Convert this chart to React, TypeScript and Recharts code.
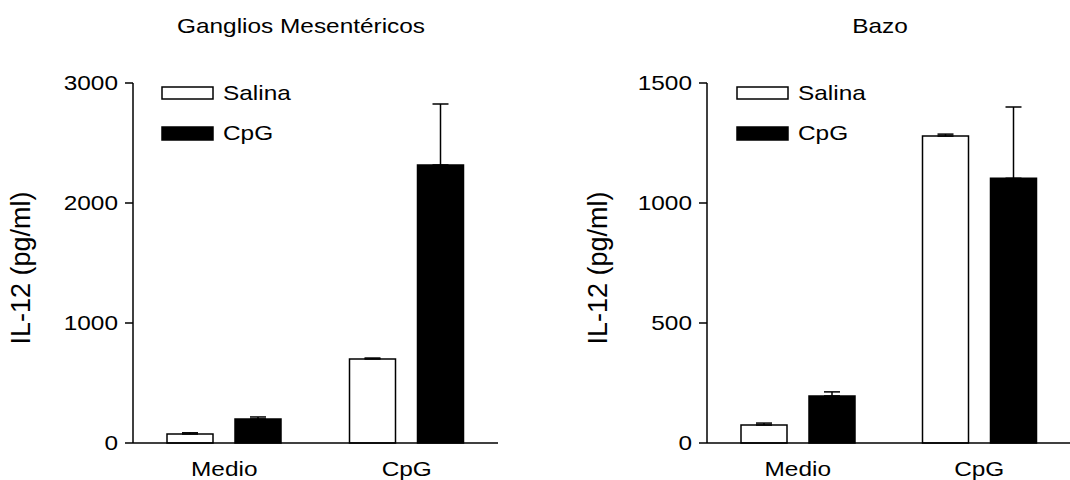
import React from 'react';
import { BarChart, Bar, XAxis, YAxis, ErrorBar } from 'recharts';

const FONT = '"Liberation Sans", Arial, Helvetica, sans-serif';
// the scanned figure is stretched sideways, so text is widened a bit
const SX = 1.22;

const categories = ['Medio', 'CpG'];
const seriesNames = ['Salina', 'CpG'];

const gangliosSalina = [75, 700];
const gangliosSalinaErr = [10, 8];
const gangliosCpG = [200, 2317];
const gangliosCpGErr = [17, 508];
const gangliosTicks = [0, 1000, 2000, 3000];

const bazoSalina = [75, 1279];
const bazoSalinaErr = [8, 8];
const bazoCpG = [196, 1103];
const bazoCpGErr = [17, 297];
const bazoTicks = [0, 500, 1000, 1500];

function buildRows(salina: number[], salinaErr: number[], cpg: number[], cpgErr: number[]) {
  return categories.map((cat, i) => ({
    cat,
    salina: salina[i],
    salinaErr: [0, salinaErr[i]],
    cpg: cpg[i],
    cpgErr: [0, cpgErr[i]],
  }));
}

const gangliosRows = buildRows(gangliosSalina, gangliosSalinaErr, gangliosCpG, gangliosCpGErr);
const bazoRows = buildRows(bazoSalina, bazoSalinaErr, bazoCpG, bazoCpGErr);

const YTick = (props: any) => {
  const { x, y, payload } = props;
  return (
    <text
      transform={`translate(${x},${y}) scale(${SX},1)`}
      textAnchor="end"
      dominantBaseline="central"
      fontSize={20}
      fontFamily={FONT}
      fill="#000"
    >
      {payload.value}
    </text>
  );
};

const XTick = (props: any) => {
  const { x, y, payload } = props;
  return (
    <text
      transform={`translate(${x},${y + 33}) scale(${SX},1)`}
      textAnchor="middle"
      fontSize={20}
      fontFamily={FONT}
      fill="#000"
    >
      {payload.value}
    </text>
  );
};

function Panel({ rows, max, ticks, width, yAxisWidth, rightMargin, labelX }: any) {
  return (
    <BarChart
      width={width}
      height={480}
      data={rows}
      margin={{ top: 83, right: rightMargin, bottom: 0, left: 0 }}
      barSize={46}
      barGap={22}
    >
      <XAxis
        dataKey="cat"
        height={37}
        axisLine={{ stroke: '#000', strokeWidth: 1.5 }}
        tickLine={false}
        tickSize={0}
        tickMargin={0}
        tick={<XTick />}
        interval={0}
      />
      <YAxis
        width={yAxisWidth}
        domain={[0, max]}
        ticks={ticks}
        axisLine={{ stroke: '#000', strokeWidth: 1.5 }}
        tickLine={{ stroke: '#000', strokeWidth: 1.5 }}
        tickSize={8}
        tickMargin={7}
        tick={<YTick />}
        label={{
          content: (p: any) => {
            const vb = p.viewBox;
            const cy = vb.y + vb.height / 2 + 5;
            return (
              <text
                x={labelX}
                y={cy}
                transform={`rotate(-90, ${labelX}, ${cy})`}
                textAnchor="middle"
                dominantBaseline="central"
                fontSize={27}
                fontFamily={FONT}
                fill="#000"
              >
                IL-12 (pg/ml)
              </text>
            );
          },
        }}
      />
      <Bar dataKey="salina" name={seriesNames[0]} fill="#fff" stroke="#000" strokeWidth={1.5} isAnimationActive={false}>
        <ErrorBar dataKey="salinaErr" direction="y" width={8} stroke="#000" strokeWidth={1.5} isAnimationActive={false} />
      </Bar>
      <Bar dataKey="cpg" name={seriesNames[1]} fill="#000" stroke="#000" strokeWidth={1.5} isAnimationActive={false}>
        <ErrorBar dataKey="cpgErr" direction="y" width={8} stroke="#000" strokeWidth={1.5} isAnimationActive={false} />
      </Bar>
    </BarChart>
  );
}

function Overlay() {
  const legend = (x: number) => (
    <g>
      <rect x={x} y={87} width={51} height={12} fill="#fff" stroke="#000" strokeWidth={1.5} />
      <text transform={`translate(${x + 61},${93}) scale(${SX},1)`} dominantBaseline="central" fontSize={20} fontFamily={FONT} fill="#000">
        {seriesNames[0]}
      </text>
      <rect x={x} y={127} width={51} height={13} fill="#000" stroke="#000" strokeWidth={1.5} />
      <text transform={`translate(${x + 61},${133}) scale(${SX},1)`} dominantBaseline="central" fontSize={20} fontFamily={FONT} fill="#000">
        {seriesNames[1]}
      </text>
    </g>
  );
  return (
    <svg width={1070} height={480} style={{ position: 'absolute', left: 0, top: 0, pointerEvents: 'none' }}>
      <text transform={`translate(301,33) scale(${SX},1)`} textAnchor="middle" fontSize={20} fontFamily={FONT} fill="#000">
        Ganglios Mesentéricos
      </text>
      <text transform={`translate(880,33) scale(${SX},1)`} textAnchor="middle" fontSize={20} fontFamily={FONT} fill="#000">
        Bazo
      </text>
      {legend(162)}
      {legend(737)}
    </svg>
  );
}

export default function App() {
  return (
    <div style={{ position: 'absolute', left: 0, top: 0, width: 1070, height: 480, background: '#fff', overflow: 'hidden' }}>
      <div style={{ position: 'absolute', left: 0, top: 0 }}>
        <Panel rows={gangliosRows} max={3000} ticks={gangliosTicks} width={535} yAxisWidth={133} rightMargin={37} labelX={21} />
      </div>
      <div style={{ position: 'absolute', left: 535, top: 0 }}>
        <Panel rows={bazoRows} max={1500} ticks={bazoTicks} width={535} yAxisWidth={172} rightMargin={0} labelX={63} />
      </div>
      <Overlay />
    </div>
  );
}
